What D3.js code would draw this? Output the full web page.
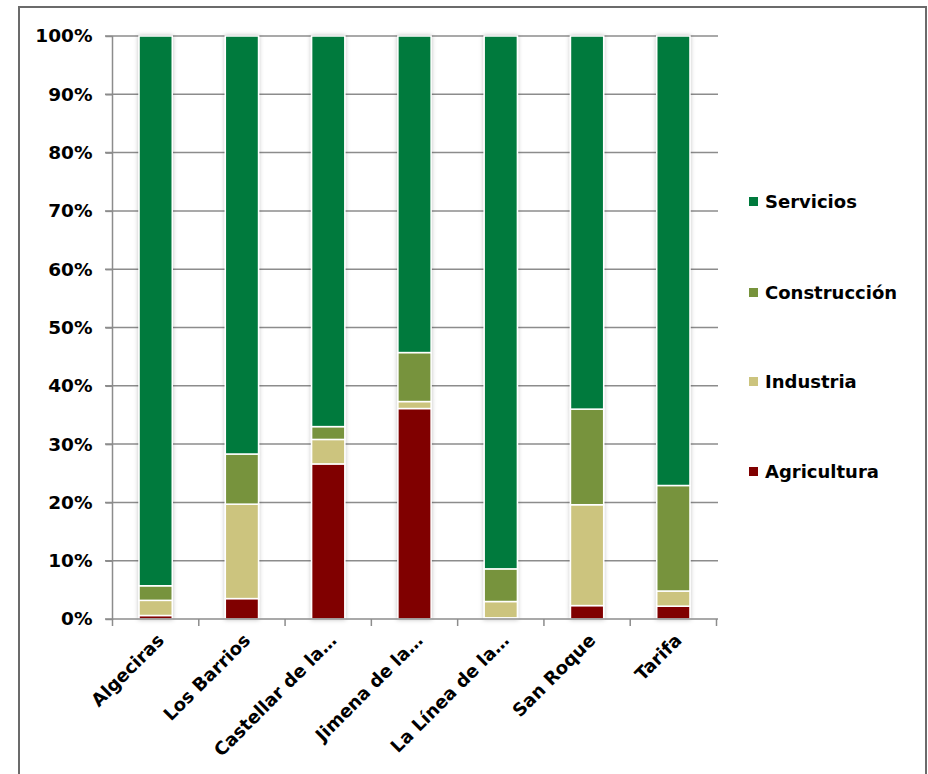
<!DOCTYPE html>
<html><head><meta charset="utf-8">
<script src="https://cdn.jsdelivr.net/npm/d3@7"></script>
<style>body{margin:0;background:#fff}svg{display:block}</style>
</head><body>
<svg id="c" width="928" height="774"></svg>
<script>
const categories = ["Algeciras","Los Barrios","Castellar de la…","Jimena de la…","La Línea de la…","San Roque","Tarifa"];
const seriesNames = ["Agricultura","Industria","Construcción","Servicios"];
const agricultura  = [0.6, 3.5, 26.6, 36.1, 0.2, 2.3, 2.2];
const industria    = [2.6, 16.2, 4.2, 1.2, 2.8, 17.3, 2.6];
const construccion = [2.5, 8.6, 2.2, 8.4, 5.6, 16.4, 18.1];
const servicios    = [94.3, 71.7, 67.0, 54.3, 91.4, 64.0, 77.1];
const colors = ["#800000","#CCC47E","#77933C","#007A3D"];
const yTicks = [0,10,20,30,40,50,60,70,80,90,100];

const svg = d3.select("#c");
const font = "'DejaVu Sans',sans-serif";
// outer border
svg.append("rect").attr("x",19).attr("y",7).attr("width",907).attr("height",800)
  .attr("fill","none").attr("stroke","#6b6b6b").attr("stroke-width",2);

const x = d3.scaleBand().domain(categories).range([112.5,716.5]).paddingInner(0.615).paddingOuter(0.3075);
const xb = d3.scaleBand().domain(categories).range([112.5,716.5]);
const y = d3.scaleLinear().domain([0,100]).range([619,36]);

const defs = svg.append("defs");
const f = defs.append("filter").attr("id","sh").attr("x","-30%").attr("y","-10%").attr("width","160%").attr("height","120%");
f.append("feDropShadow").attr("dx",0).attr("dy",0).attr("stdDeviation",2).attr("flood-color","#000").attr("flood-opacity",0.25);

// gridlines
svg.append("g").selectAll("line").data(yTicks.filter(d=>d>0)).join("line")
  .attr("x1",105).attr("x2",718).attr("y1",d=>y(d)).attr("y2",d=>y(d))
  .attr("stroke","#8c8c8c").attr("stroke-width",1.5);

// y axis
const yAxis = d3.axisLeft(y).tickValues(yTicks).tickFormat(d=>d+"%").tickSize(7).tickPadding(13);
const gy = svg.append("g").attr("transform","translate(112.5,0)").call(yAxis);
gy.select(".domain").attr("stroke","#8c8c8c").attr("stroke-width",1.5).attr("d","M0,"+y(100)+"V"+(y(0)+1));
gy.selectAll(".tick line").attr("stroke","#8c8c8c").attr("stroke-width",1.5);
gy.selectAll(".tick text").attr("font-family",font).attr("font-weight","bold").attr("font-size",18.5).attr("fill","#000");

// stacked data
const rows = categories.map((c,i)=>({cat:c, Agricultura:agricultura[i], Industria:industria[i], "Construcción":construccion[i], Servicios:servicios[i]}));
const stack = d3.stack().keys(seriesNames)(rows);

const bars = svg.append("g").attr("filter","url(#sh)");
stack.forEach((s,si)=>{
  bars.selectAll(null).data(s).join("rect")
    .attr("x",d=>x(d.data.cat)).attr("width",x.bandwidth())
    .attr("y",d=>y(d[1])).attr("height",d=>Math.max(0,y(d[0])-y(d[1])))
    .attr("fill",colors[si]).attr("stroke","#fff").attr("stroke-width",1.5);
});

// x axis
const gx = svg.append("g").attr("transform","translate(0,619)");
gx.append("line").attr("x1",105).attr("x2",718).attr("stroke","#8c8c8c").attr("stroke-width",1.5);
const bounds = categories.map(c=>xb(c)).concat([xb(categories[6])+xb.bandwidth()]);
gx.selectAll("line.t").data(bounds).join("line").attr("class","t")
  .attr("x1",d=>d).attr("x2",d=>d).attr("y1",0).attr("y2",7).attr("stroke","#8c8c8c").attr("stroke-width",1.5);
gx.selectAll("text").data(categories).join("text")
  .attr("transform",d=>`translate(${xb(d)+xb.bandwidth()/2+5},${18}) rotate(-45)`)
  .attr("text-anchor","end").attr("dy","0.35em")
  .attr("font-family",font).attr("font-weight","bold").attr("font-size",18).attr("fill","#000")
  .text(d=>d);

// legend
const legendY = [472,382,293,202];
const lg = svg.append("g");
seriesNames.forEach((n,i)=>{
  lg.append("rect").attr("x",749).attr("y",legendY[i]-5).attr("width",9).attr("height",9).attr("fill",colors[i]);
  lg.append("text").attr("x",765).attr("y",legendY[i]).attr("dy","0.35em")
    .attr("font-family",font).attr("font-weight","bold").attr("font-size",18).attr("fill","#000").text(n);
});
</script>
</body></html>
